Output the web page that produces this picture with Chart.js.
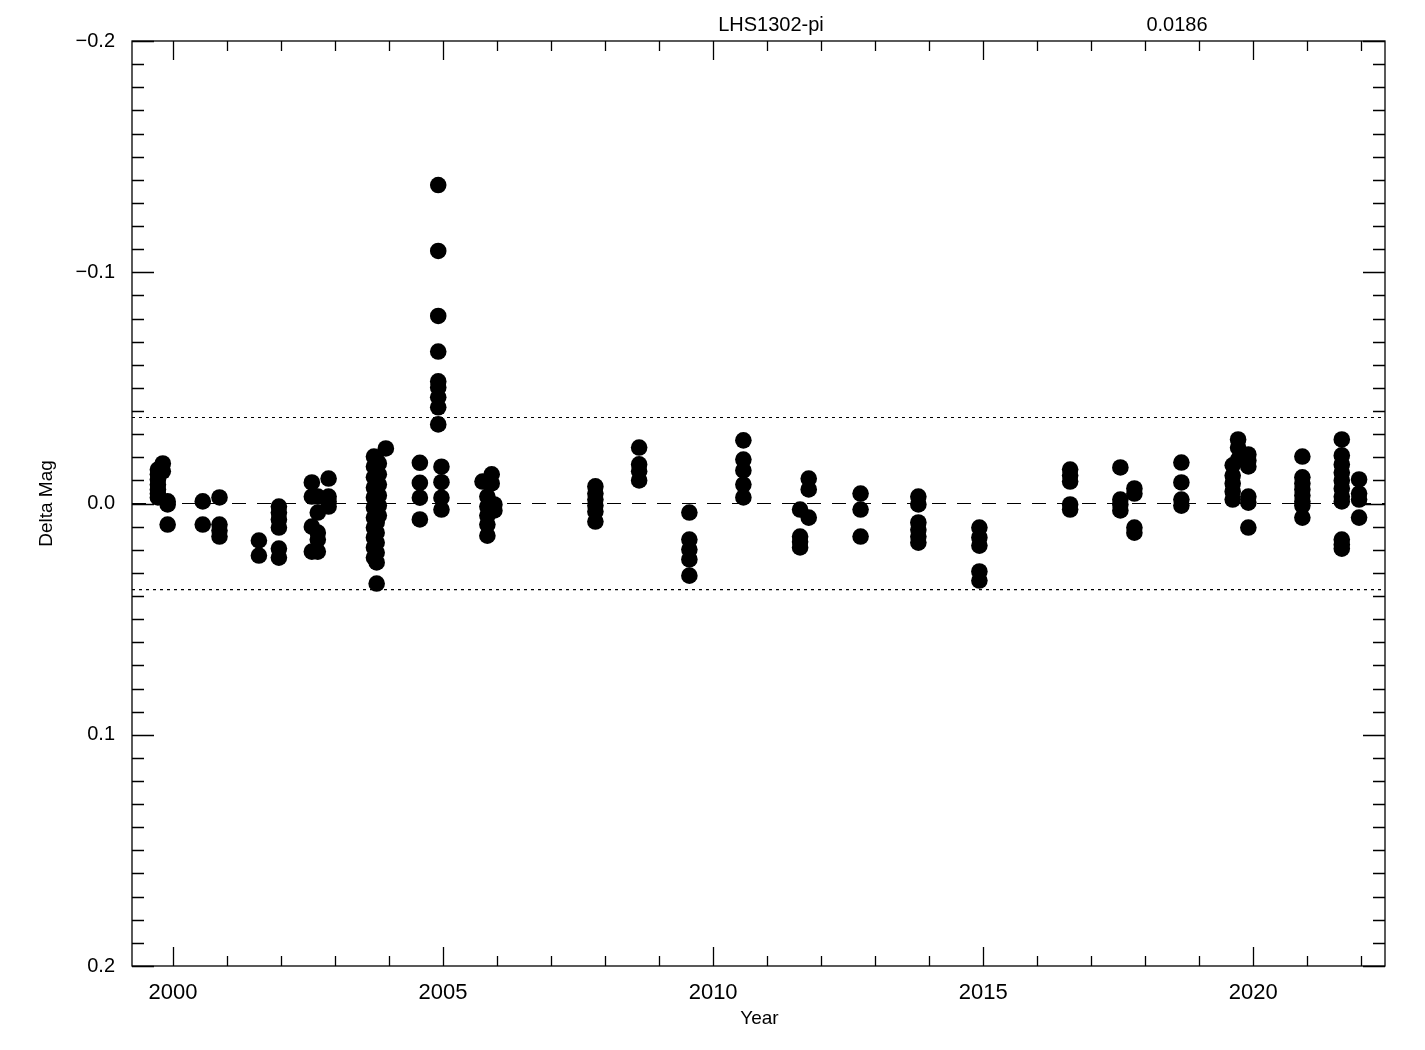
<!DOCTYPE html>
<html lang="en">
<head>
  <meta charset="UTF-8" />
  <title>LHS1302-pi</title>
  <script src="https://cdn.jsdelivr.net/npm/chart.js"></script>
  <style>
    body { margin: 0; background: #fff; }
    canvas { display: block; }
  </style>
</head>
<body>
  <canvas id="lc" width="1425" height="1050"></canvas>

  <script>
    const starName = 'LHS1302-pi';
    const sigma = 0.0186;

    // epochs (decimal year) and the delta mags measured at each one
    const epochs = [
      1999.72, 1999.81, 1999.90, 2000.55, 2000.86, 2001.59, 2001.96,
      2002.57, 2002.68, 2002.88, 2003.72, 2003.77, 2003.81, 2003.94,
      2004.57, 2004.91, 2004.97, 2005.73, 2005.82, 2005.90, 2005.95,
      2007.82, 2008.63, 2009.56, 2010.56, 2011.61, 2011.77, 2012.73,
      2013.80, 2014.93, 2016.61, 2017.54, 2017.80, 2018.67, 2019.62,
      2019.72, 2019.91, 2020.91, 2021.64, 2021.96
    ];
    const deltaMag = [
      [-0.0147, -0.0126, -0.0104, -0.0082, -0.0061, -0.0043, -0.0026],
      [-0.0173, -0.0139],
      [-0.0009, 0.0004, 0.0091],
      [-0.0009, 0.0091],
      [-0.0026, 0.0091, 0.0117, 0.0143],
      [0.0160, 0.0225],
      [0.0013, 0.0039, 0.0069, 0.0104, 0.0195, 0.0234],
      [-0.0091, -0.0030, 0.0100, 0.0208],
      [-0.0030, 0.0039, 0.0126, 0.0156, 0.0208],
      [-0.0108, -0.0030, -0.0009, 0.0013],
      [-0.0203, -0.0160, -0.0113, -0.0069, -0.0026, 0.0017, 0.0061, 0.0104, 0.0147, 0.0190, 0.0234],
      [-0.0186, -0.0139, -0.0095, -0.0048, 0.0000, 0.0043, 0.0082, 0.0126, 0.0169, 0.0212, 0.0255, 0.0346],
      [-0.0173, -0.0126, -0.0082, -0.0035, 0.0009, 0.0052],
      [-0.0238],
      [-0.0176, -0.0089, -0.0025, 0.0069],
      [-0.1377, -0.1092, -0.0811, -0.0657, -0.0528, -0.0502, -0.0459, -0.0416, -0.0342],
      [-0.0159, -0.0092, -0.0025, 0.0026],
      [-0.0095],
      [-0.0030, 0.0013, 0.0052, 0.0091, 0.0139],
      [-0.0126, -0.0087],
      [0.0004, 0.0030],
      [-0.0074, -0.0043, -0.0017, 0.0009, 0.0035, 0.0078],
      [-0.0242, -0.0169, -0.0139, -0.0100],
      [0.0039, 0.0156, 0.0199, 0.0242, 0.0312],
      [-0.0273, -0.0190, -0.0143, -0.0082, -0.0026],
      [0.0026, 0.0143, 0.0165, 0.0190],
      [-0.0108, -0.0061, 0.0061],
      [-0.0043, 0.0026, 0.0143],
      [-0.0030, 0.0004, 0.0082, 0.0113, 0.0143, 0.0169],
      [0.0104, 0.0147, 0.0182, 0.0294, 0.0333],
      [-0.0147, -0.0121, -0.0095, 0.0004, 0.0026],
      [-0.0156, -0.0017, 0.0004, 0.0030],
      [-0.0065, -0.0043, 0.0104, 0.0126],
      [-0.0177, -0.0091, -0.0017, 0.0009],
      [-0.0165, -0.0121, -0.0087, -0.0052, -0.0017],
      [-0.0277, -0.0242, -0.0190],
      [-0.0212, -0.0186, -0.0160, -0.0030, -0.0004, 0.0104],
      [-0.0203, -0.0113, -0.0087, -0.0061, -0.0035, -0.0009, 0.0009, 0.0061],
      [-0.0277, -0.0208, -0.0169, -0.0134, -0.0100, -0.0065, -0.0030, -0.0009, 0.0156, 0.0177, 0.0195],
      [-0.0104, -0.0043, -0.0017, 0.0061]
    ];

    const xMin = 1999.24, xMax = 2022.44;
    const yMin = -0.2, yMax = 0.2;
    const xTicks = [2000, 2005, 2010, 2015, 2020];
    const yTicks = [-0.2, -0.1, 0.0, 0.1, 0.2];

    const points = [];
    epochs.forEach((yr, i) => {
      deltaMag[i].forEach(m => points.push({ x: yr, y: m }));
    });

    const hline = (v) => [{ x: xMin, y: v }, { x: xMax, y: v }];

    // IDL style frame: box on all sides, inward ticks, plus title text
    const framePlugin = {
      id: 'frame',
      afterDraw(chart) {
        const { ctx, chartArea: a, scales: { x, y } } = chart;
        ctx.save();
        ctx.strokeStyle = '#000';
        ctx.lineWidth = 1.3;
        ctx.strokeRect(a.left, a.top, a.right - a.left, a.bottom - a.top);

        ctx.beginPath();
        for (let yr = 2000; yr <= 2022; yr++) {
          const px = Math.round(x.getPixelForValue(yr)) + 0.5;
          const len = yr % 5 === 0 ? 19 : 10;
          ctx.moveTo(px, a.bottom); ctx.lineTo(px, a.bottom - len);
          ctx.moveTo(px, a.top); ctx.lineTo(px, a.top + len);
        }
        for (let k = -20; k <= 20; k++) {
          const py = Math.round(y.getPixelForValue(k / 100)) + 0.5;
          const len = k % 10 === 0 ? 22 : 12;
          ctx.moveTo(a.left, py); ctx.lineTo(a.left + len, py);
          ctx.moveTo(a.right, py); ctx.lineTo(a.right - len, py);
        }
        ctx.stroke();

        ctx.fillStyle = '#000';
        ctx.font = '20px "Liberation Sans", Arial, sans-serif';
        ctx.textAlign = 'center';
        ctx.textBaseline = 'middle';
        ctx.fillText(starName, 771, 25);
        ctx.fillText(sigma.toFixed(4), 1177, 25);

        ctx.font = '19px "Liberation Sans", Arial, sans-serif';
        ctx.fillText('Year', (a.left + a.right) / 2 + 1, 1019);
        ctx.translate(47, y.getPixelForValue(0));
        ctx.rotate(-Math.PI / 2);
        ctx.fillText('Delta Mag', 0, 0);
        ctx.restore();
      }
    };

    new Chart(document.getElementById('lc'), {
      type: 'scatter',
      data: {
        datasets: [
          {
            type: 'line', data: hline(0), borderColor: '#000', borderWidth: 1.2,
            borderDash: [14, 11], pointRadius: 0, order: 2
          },
          {
            type: 'line', data: hline(-2 * sigma), borderColor: '#000', borderWidth: 1.2,
            borderDash: [3, 4], pointRadius: 0, order: 2
          },
          {
            type: 'line', data: hline(2 * sigma), borderColor: '#000', borderWidth: 1.2,
            borderDash: [3, 4], pointRadius: 0, order: 2
          },
          {
            label: starName, data: points, backgroundColor: '#000',
            borderWidth: 0, pointRadius: 8.3, order: 1
          }
        ]
      },
      options: {
        responsive: false,
        animation: false,
        layout: { padding: { top: 41, right: 40, left: 0, bottom: 0 } },
        plugins: { legend: { display: false }, tooltip: { enabled: false } },
        scales: {
          x: {
            type: 'linear', min: xMin, max: xMax,
            afterBuildTicks: s => { s.ticks = xTicks.map(v => ({ value: v })); },
            afterFit: s => { s.height = 84; },
            grid: { display: false },
            border: { display: false },
            ticks: {
              color: '#000', padding: 6, maxRotation: 0,
              font: { family: '"Liberation Sans", Arial, sans-serif', size: 22 },
              callback: v => String(v)
            }
          },
          y: {
            type: 'linear', min: yMin, max: yMax, reverse: true,
            afterBuildTicks: s => { s.ticks = yTicks.map(v => ({ value: v })); },
            afterFit: s => { s.width = 132; },
            grid: { display: false },
            border: { display: false },
            ticks: {
              color: '#000', padding: 9,
              font: { family: '"Liberation Sans", Arial, sans-serif', size: 20 },
              callback: v => (v < 0 ? '\u2212' : '') + Math.abs(v).toFixed(1)
            }
          }
        }
      },
      plugins: [framePlugin]
    });
  </script>
</body>
</html>
